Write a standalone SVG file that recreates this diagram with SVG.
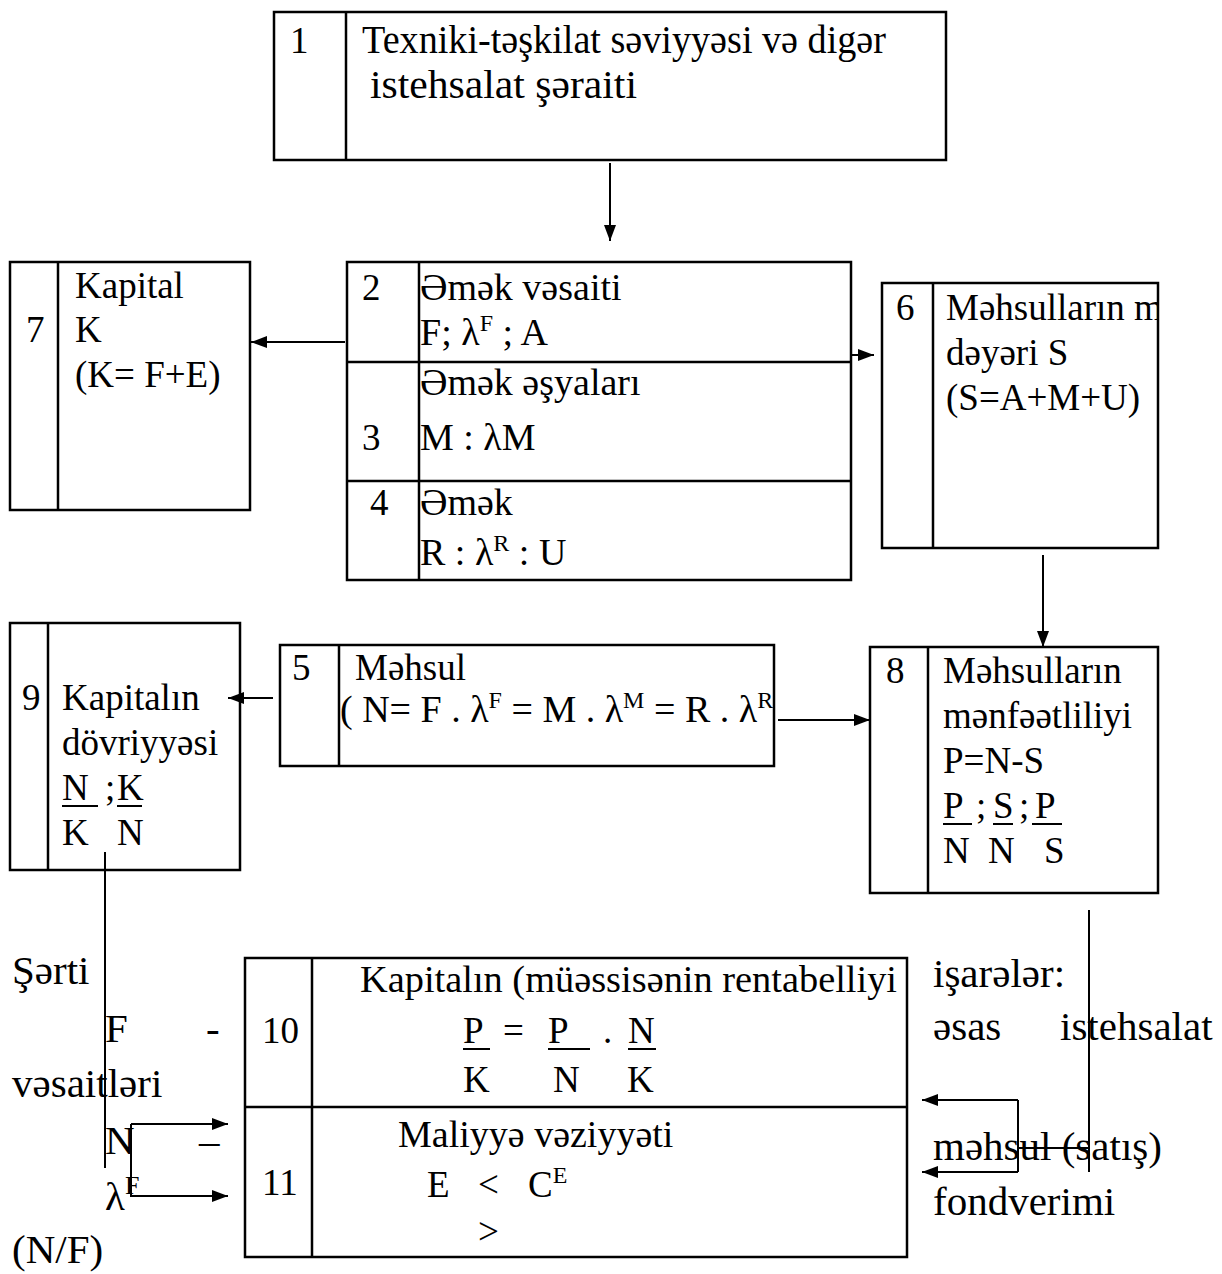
<svg xmlns="http://www.w3.org/2000/svg" width="1222" height="1274" viewBox="0 0 1222 1274">
<defs>
<style>
.b{fill:#fff;stroke:#000;stroke-width:2.5}
.d{stroke:#000;stroke-width:2.5}
.t{font-family:"Liberation Serif","Times New Roman",serif;font-size:37px;fill:#000}
.o{font-family:"Liberation Serif","Times New Roman",serif;font-size:41px;fill:#000}
.s{font-size:24px}
.c{fill:none;stroke:#000;stroke-width:2}
.u{stroke:#000;stroke-width:2}
</style>
<marker id="ar" viewBox="0 0 16 12" refX="16" refY="6" markerWidth="16" markerHeight="12" markerUnits="userSpaceOnUse" orient="auto">
<path d="M0,0 L16,6 L0,12 Z" fill="#000"/>
</marker>
<clipPath id="c6"><rect x="882" y="283" width="275" height="265"/></clipPath>
</defs>
<g id="n1">
<rect class="b" x="274" y="12" width="672" height="148"/>
<line class="d" x1="346" y1="12" x2="346" y2="160"/>
<text class="t" x="290" y="53">1</text>
<text class="t" x="362" y="53" style="font-size:39px" textLength="524" lengthAdjust="spacingAndGlyphs">Texniki-təşkilat səviyyəsi və digər</text>
<text class="t" x="370" y="98" style="font-size:39px" textLength="267" lengthAdjust="spacingAndGlyphs">istehsalat şəraiti</text>
</g>
<g id="n7">
<rect class="b" x="10" y="262" width="240" height="248"/>
<line class="d" x1="58" y1="262" x2="58" y2="510"/>
<text class="t" x="26" y="342">7</text>
<text class="t" x="75" y="298">Kapital</text>
<text class="t" x="75" y="342">K</text>
<text class="t" x="75" y="387">(K= F+E)</text>
</g>
<g id="n2">
<rect class="b" x="347" y="262" width="504" height="318"/>
<line class="d" x1="419" y1="262" x2="419" y2="580"/>
<line class="d" x1="347" y1="362" x2="851" y2="362"/>
<text class="t" x="362" y="300">2</text>
<text class="t" x="420" y="300" style="font-size:38px">Əmək vəsaiti</text>
<text class="t" x="420" y="345" style="font-size:38px">F; λ<tspan class="s" dy="-14">F</tspan><tspan dy="14"> ; A</tspan></text>
</g>
<g id="n3">
<line class="d" x1="347" y1="481" x2="851" y2="481"/>
<text class="t" x="362" y="450">3</text>
<text class="t" x="420" y="395" style="font-size:38px">Əmək əşyaları</text>
<text class="t" x="420" y="450" style="font-size:38px">M : λM</text>
</g>
<g id="n4">
<text class="t" x="370" y="515">4</text>
<text class="t" x="420" y="515" style="font-size:38px">Əmək</text>
<text class="t" x="420" y="565" style="font-size:38px">R : λ<tspan class="s" dy="-14">R</tspan><tspan dy="14"> : U</tspan></text>
</g>
<g id="n6">
<rect class="b" x="882" y="283" width="276" height="265"/>
<line class="d" x1="933" y1="283" x2="933" y2="548"/>
<text class="t" x="896" y="320">6</text>
<text class="t" x="946" y="320" clip-path="url(#c6)">Məhsulların m</text>
<text class="t" x="946" y="365">dəyəri S</text>
<text class="t" x="946" y="410">(S=A+M+U)</text>
</g>
<g id="n5">
<rect class="b" x="280" y="645" width="494" height="121"/>
<line class="d" x1="339" y1="645" x2="339" y2="766"/>
<text class="t" x="292" y="680">5</text>
<text class="t" x="355" y="680">Məhsul</text>
<text class="t" x="340" y="722" style="font-size:38px">( N= F . λ<tspan class="s" dy="-14">F</tspan><tspan dy="14"> = M . λ</tspan><tspan class="s" dy="-14">M</tspan><tspan dy="14"> = R . λ</tspan><tspan class="s" dy="-14">R</tspan></text>
</g>
<g id="n9">
<rect class="b" x="10" y="623" width="230" height="247"/>
<line class="d" x1="48" y1="623" x2="48" y2="870"/>
<text class="t" x="22" y="710">9</text>
<text class="t" x="62" y="710">Kapitalın</text>
<text class="t" x="62" y="755">dövriyyəsi</text>
<text class="t" x="62" y="800">N</text>
<text class="t" x="105" y="800">;</text>
<text class="t" x="117" y="800">K</text>
<line class="u" x1="62" y1="806" x2="98" y2="806"/>
<line class="u" x1="117" y1="806" x2="142" y2="806"/>
<text class="t" x="62" y="845">K</text>
<text class="t" x="117" y="845">N</text>
</g>
<g id="n8">
<rect class="b" x="870" y="647" width="288" height="246"/>
<line class="d" x1="928" y1="647" x2="928" y2="893"/>
<text class="t" x="886" y="683">8</text>
<text class="t" x="943" y="683">Məhsulların</text>
<text class="t" x="943" y="728">mənfəətliliyi</text>
<text class="t" x="943" y="773">P=N-S</text>
<text class="t" x="943" y="818">P</text>
<text class="t" x="976" y="818">;</text>
<text class="t" x="993" y="818">S</text>
<text class="t" x="1019" y="818">;</text>
<text class="t" x="1035" y="818">P</text>
<line class="u" x1="943" y1="824" x2="972" y2="824"/>
<line class="u" x1="993" y1="824" x2="1013" y2="824"/>
<line class="u" x1="1032" y1="824" x2="1062" y2="824"/>
<text class="t" x="943" y="863">N</text>
<text class="t" x="988" y="863">N</text>
<text class="t" x="1044" y="863">S</text>
</g>
<g id="n10">
<rect class="b" x="245" y="958" width="662" height="299"/>
<line class="d" x1="312" y1="958" x2="312" y2="1257"/>
<line class="d" x1="245" y1="1107" x2="907" y2="1107"/>
<text class="t" x="262" y="1043">10</text>
<text class="t" x="360" y="992" style="font-size:38px" textLength="537" lengthAdjust="spacingAndGlyphs">Kapitalın (müəssisənin rentabelliyi</text>
<text class="t" x="463" y="1043">P</text>
<text class="t" x="503" y="1043">=</text>
<text class="t" x="548" y="1043">P</text>
<text class="t" x="603" y="1043">.</text>
<text class="t" x="628" y="1043">N</text>
<line class="u" x1="463" y1="1049" x2="490" y2="1049"/>
<line class="u" x1="548" y1="1049" x2="590" y2="1049"/>
<line class="u" x1="628" y1="1049" x2="656" y2="1049"/>
<text class="t" x="463" y="1092">K</text>
<text class="t" x="553" y="1092">N</text>
<text class="t" x="627" y="1092">K</text>
</g>
<g id="n11">
<text class="t" x="262" y="1195">11</text>
<text class="t" x="398" y="1147" style="font-size:38px">Maliyyə vəziyyəti</text>
<text class="t" x="427" y="1197">E</text>
<text class="t" x="478" y="1197">&lt;</text>
<text class="t" x="528" y="1197">C<tspan class="s" dy="-14">E</tspan></text>
<text class="t" x="478" y="1244">&gt;</text>
</g>
<g id="legend">
<text class="o" x="12" y="984">Şərti</text>
<text class="o" x="105" y="1042">F</text>
<text class="o" x="206" y="1042">-</text>
<text class="o" x="12" y="1097">vəsaitləri</text>
<text class="o" x="105" y="1154">N</text>
<text class="o" x="199" y="1154">–</text>
<text class="o" x="105" y="1210">λ<tspan font-size="26" dy="-16">F</tspan></text>
<text class="o" x="12" y="1263">(N/F)</text>
<text class="o" x="933" y="987">işarələr:</text>
<text class="o" x="933" y="1040">əsas</text>
<text class="o" x="1060" y="1040">istehsalat</text>
<text class="o" x="933" y="1160">məhsul (satış)</text>
<text class="o" x="933" y="1215">fondverimi</text>
</g>
<g id="connectors">
<line class="c" x1="610" y1="163" x2="610" y2="241" marker-end="url(#ar)"/>
<line class="c" x1="345" y1="342" x2="251" y2="342" marker-end="url(#ar)"/>
<line class="c" x1="852" y1="355" x2="874" y2="355" marker-end="url(#ar)"/>
<line class="c" x1="1043" y1="555" x2="1043" y2="647" marker-end="url(#ar)"/>
<line class="c" x1="778" y1="720" x2="870" y2="720" marker-end="url(#ar)"/>
<line class="c" x1="273" y1="698" x2="228" y2="698" marker-end="url(#ar)"/>
<line class="c" x1="105" y1="852" x2="105" y2="1168"/>
<polyline class="c" points="131,1124 131,1196 228,1196" marker-end="url(#ar)"/>
<line class="c" x1="131" y1="1124" x2="228" y2="1124" marker-end="url(#ar)"/>
<line class="c" x1="1089" y1="910" x2="1089" y2="1172"/>
<line class="c" x1="1089" y1="1148" x2="1018" y2="1148"/>
<line class="c" x1="1018" y1="1100" x2="1018" y2="1172"/>
<line class="c" x1="1018" y1="1100" x2="922" y2="1100" marker-end="url(#ar)"/>
<line class="c" x1="1018" y1="1172" x2="922" y2="1172" marker-end="url(#ar)"/>
</g>
</svg>
